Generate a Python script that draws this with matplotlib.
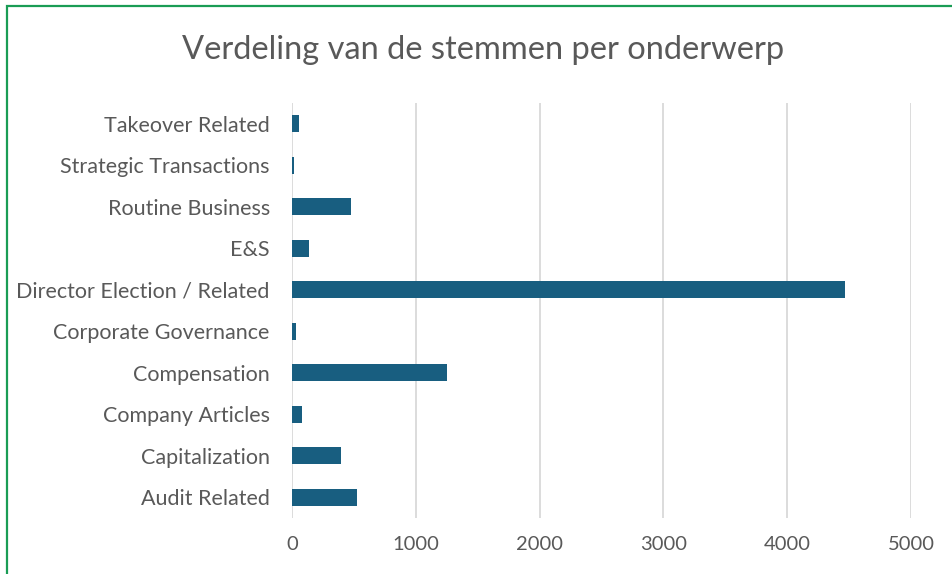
import matplotlib
matplotlib.use('Agg')
import matplotlib.pyplot as plt
import matplotlib.patches as mpatches

# data
categories = ['Audit Related', 'Capitalization', 'Company Articles', 'Compensation',
              'Corporate Governance', 'Director Election / Related', 'E&S',
              'Routine Business', 'Strategic Transactions', 'Takeover Related']
votes = [522, 393, 83, 1248, 35, 4470, 135, 473, 19, 55]
xticks = [0, 1000, 2000, 3000, 4000, 5000]

plt.rcParams['font.family'] = ['Lato', 'DejaVu Sans']

W, H = 952, 574
fig = plt.figure(figsize=(W / 100, H / 100), dpi=100)
ax = fig.add_axes([292 / W, 1 - 518 / H, (911 - 292) / W, (518 - 103) / H])

ax.barh(range(len(categories)), votes, height=0.4, color='#185E80')
ax.set_ylim(-0.5, len(categories) - 0.5)
ax.set_xlim(0, 5000)
ax.set_xticks(xticks)
ax.set_yticks(range(len(categories)))
ax.set_yticklabels(categories)

ax.grid(axis='x', color='#d9d9d9', linewidth=1.3)
ax.set_axisbelow(True)
for s in ax.spines.values():
    s.set_visible(False)
ax.tick_params(axis='both', length=0, colors='#595959')
ax.tick_params(axis='x', pad=13, labelsize=14.5)
ax.tick_params(axis='y', pad=16, labelsize=15.5)

fig.text(483 / W, 1 - 50 / H, 'Verdeling van de stemmen per onderwerp',
         ha='center', va='center', fontsize=23.5, color='#595959')

# green frame (only top and left visible in the crop)
fig.patches.append(mpatches.Rectangle((7 / W, -0.1), 1.2, 1.1 - 6 / H,
                                      transform=fig.transFigure, fill=False,
                                      edgecolor='#1a9c55', linewidth=1.6))

fig.savefig('out.png', dpi=100)
